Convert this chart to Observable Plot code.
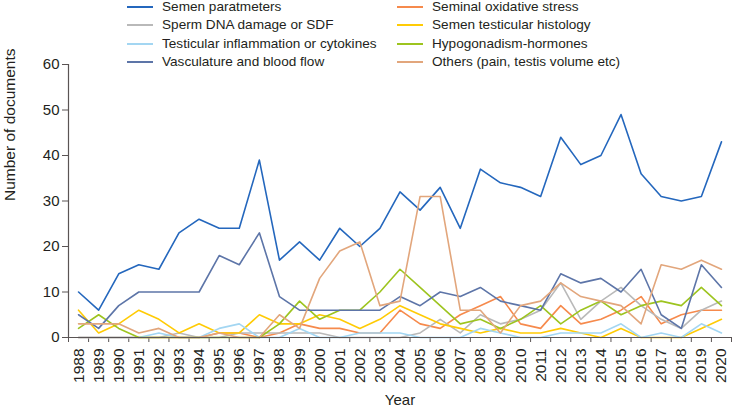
<!DOCTYPE html>
<html><head><meta charset="utf-8">
<script src="https://cdn.jsdelivr.net/npm/d3@7"></script>
<script src="https://cdn.jsdelivr.net/npm/@observablehq/plot@0.6"></script>
<style>
body{margin:0;background:#fff;font-family:"Liberation Sans",Arial,sans-serif;}
#wrap{position:relative;width:735px;height:410px;overflow:hidden;}
#legend{position:absolute;left:0;top:0;width:735px;}
.item{position:absolute;height:14px;line-height:14px;display:flex;align-items:center;font-size:13.6px;color:#231f20;white-space:nowrap;}
.sw{width:26px;height:2px;margin-right:9px;}
#chart svg{display:block;}
</style></head><body>
<div id="wrap"><div id="chart"></div><div id="legend"></div></div>
<script>
const years = [1988,1989,1990,1991,1992,1993,1994,1995,1996,1997,1998,1999,2000,2001,2002,2003,2004,2005,2006,2007,2008,2009,2010,2011,2012,2013,2014,2015,2016,2017,2018,2019,2020];

const seriesNames = ["Semen paratmeters","Seminal oxidative stress","Sperm DNA damage or SDF","Semen testicular histology","Testicular inflammation or cytokines","Hypogonadism-hormones","Vasculature and blood flow","Others (pain, testis volume etc)"];
const seriesColors = ["#2467bd","#f68a4c","#b9b9b9","#ffcb05","#a3d6f2","#9dc41f","#5d75a8","#e2a67c"];

const semenParameters = [10,6,14,16,15,23,26,24,24,39,17,21,17,24,20,24,32,28,33,24,37,34,33,31,44,38,40,49,36,31,30,31,43];
const oxidativeStress = [0,0,0,0,0,0,0,1,1,0,1,3,2,2,1,1,6,3,2,5,7,9,3,2,7,3,4,6,9,3,5,6,6];
const spermDNA = [0,0,0,0,0,1,0,0,1,1,1,1,1,0,0,0,0,1,4,1,5,3,4,6,12,4,8,11,7,4,2,6,8];
const histology = [6,1,3,6,4,1,3,1,1,5,3,3,5,4,2,4,7,5,3,2,1,2,1,1,2,1,0,2,0,0,0,2,4];
const inflammation = [0,0,0,0,1,0,0,2,3,0,0,2,0,0,1,1,1,0,0,0,2,1,0,0,1,1,1,3,0,1,0,3,1];
const hypogonadism = [2,5,2,0,0,0,0,0,0,0,3,8,4,6,6,10,15,11,7,3,4,2,4,7,3,6,8,5,7,8,7,11,7];
const vasculature = [5,2,7,10,10,10,10,18,16,23,9,6,6,6,6,6,9,7,10,9,11,8,7,6,14,12,13,10,15,5,2,16,11];
const others = [3,3,3,1,2,0,0,1,0,0,5,2,13,19,21,7,8,31,31,6,6,1,7,8,12,9,8,7,3,16,15,17,15];

const yTicks = [0,10,20,30,40,50,60];
const legendLeft = ["Semen paratmeters","Sperm DNA damage or SDF","Testicular inflammation or cytokines","Vasculature and blood flow"];
const legendRight = ["Seminal oxidative stress","Semen testicular histology","Hypogonadism-hormones","Others (pain, testis volume etc)"];

const seriesValues = [semenParameters, oxidativeStress, spermDNA, histology, inflammation, hypogonadism, vasculature, others];
const rows = [];
seriesNames.forEach((name, i) => {
  years.forEach((yr, j) => rows.push({series: name, year: yr, value: seriesValues[i][j]}));
});
const boundaries = years.map(y => y - 0.5).concat([years[years.length - 1] + 0.5]);

const chart = Plot.plot({
  width: 735, height: 410,
  marginTop: 64, marginBottom: 73, marginLeft: 68, marginRight: 4,
  x: {type: "linear", domain: [boundaries[0], boundaries[boundaries.length - 1]]},
  y: {domain: [0, 60]},
  color: {domain: seriesNames, range: seriesColors},
  style: {fontFamily: "'Liberation Sans', Arial, sans-serif", fontSize: "15px", color: "#231f20", background: "transparent", overflow: "visible"},
  marks: [
    Plot.axisY({ticks: yTicks, tickSize: 6, tickPadding: 3, label: null, stroke: "#5a5454", fill: "#231f20", fontSize: 15}),
    Plot.axisX({ticks: boundaries, tickSize: 5, tickFormat: () => "", label: null, stroke: "#5a5454"}),
    Plot.axisX({ticks: years, tickSize: 0, tickRotate: -90, tickPadding: 11, tickFormat: d => String(d), label: null, fill: "#231f20", fontSize: 15.5}),
    Plot.lineY(rows, {x: "year", y: "value", z: "series", stroke: "series", strokeWidth: 1.6}),
    Plot.ruleY([0], {stroke: "#5a5454", strokeWidth: 1.2}),
    Plot.ruleX([boundaries[0]], {y1: 0, y2: 60, stroke: "#5a5454", strokeWidth: 1.2}),
    Plot.text(["Number of documents"], {frameAnchor: "left", dx: -58, rotate: -90, fontSize: 15.5, fill: "#231f20"}),
    Plot.text(["Year"], {frameAnchor: "bottom", dy: 67, fontSize: 15, fill: "#231f20"})
  ]
});
document.getElementById("chart").appendChild(chart);

const legend = document.getElementById("legend");
function addItem(name, left, row) {
  const d = document.createElement("div");
  d.className = "item";
  d.style.left = left + "px";
  d.style.top = (row * 18.4) + "px";
  const sw = document.createElement("span");
  sw.className = "sw";
  sw.style.background = seriesColors[seriesNames.indexOf(name)];
  d.appendChild(sw);
  d.appendChild(document.createTextNode(name));
  legend.appendChild(d);
}
legendLeft.forEach((n, i) => addItem(n, 127, i));
legendRight.forEach((n, i) => addItem(n, 397, i));
</script>
</body></html>
